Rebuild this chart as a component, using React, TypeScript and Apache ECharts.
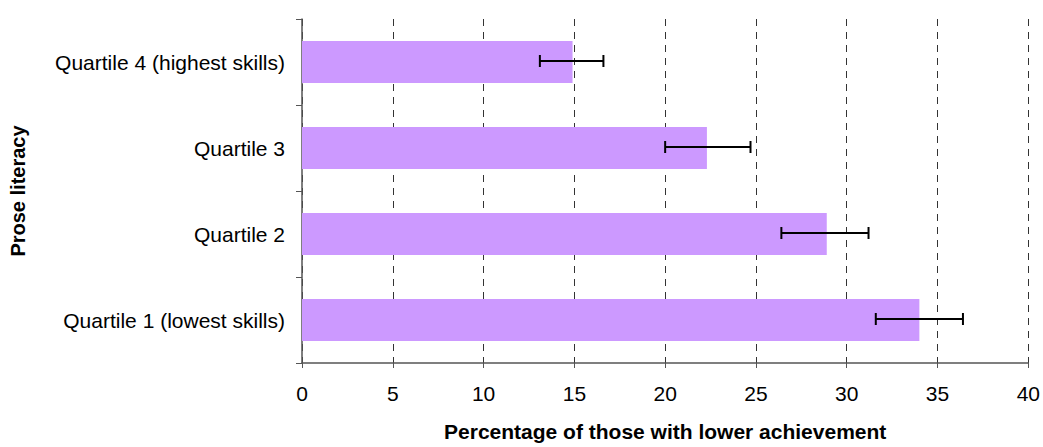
import React, { useEffect, useRef } from "react";
import * as echarts from "echarts";

const categories = [
  "Quartile 1 (lowest skills)",
  "Quartile 2",
  "Quartile 3",
  "Quartile 4 (highest skills)",
];
const barValues = [34.0, 28.9, 22.3, 14.9];
const errorLow = [31.6, 26.4, 20.0, 13.1];
const errorHigh = [36.4, 31.2, 24.7, 16.6];

const FONT = "'Liberation Sans', Arial, sans-serif";

export default function App() {
  const ref = useRef<HTMLDivElement>(null);
  useEffect(() => {
    if (!ref.current) return;
    const chart = echarts.init(ref.current, undefined, { renderer: "svg" });
    const errData = categories.map((_, i) => [i, errorLow[i], errorHigh[i]]);
    chart.setOption({
      animation: false,
      backgroundColor: "#ffffff",
      grid: { left: 299, right: 14, top: 19, bottom: 82, containLabel: false },
      xAxis: {
        type: "value",
        min: 0,
        max: 40,
        interval: 5,
        name: "Percentage of those with lower achievement",
        nameLocation: "middle",
        nameGap: 58,
        nameTextStyle: { fontFamily: FONT, fontSize: 21, fontWeight: "bold", color: "#000" },
        axisLine: { show: true, lineStyle: { color: "#555", width: 1.5 } },
        axisTick: { show: true, length: 5, lineStyle: { color: "#555" } },
        axisLabel: { fontFamily: FONT, fontSize: 21, color: "#000", margin: 20 },
        splitLine: {
          show: true,
          lineStyle: { color: "#333", type: [7, 6], width: 1 },
        },
      },
      yAxis: {
        type: "category",
        data: categories,
        name: "Prose literacy",
        nameLocation: "middle",
        nameGap: 274,
        nameRotate: 90,
        nameTextStyle: { fontFamily: FONT, fontSize: 20, fontWeight: "bold", color: "#000" },
        axisLine: { show: true, lineStyle: { color: "#555", width: 1.5 } },
        axisTick: { show: true, length: 6, alignWithLabel: false, lineStyle: { color: "#555" } },
        axisLabel: { fontFamily: FONT, fontSize: 21, color: "#000", margin: 17 },
        splitLine: { show: false },
      },
      series: [
        {
          type: "bar",
          data: barValues,
          barWidth: 42,
          itemStyle: { color: "#CC99FF" },
          z: 2,
        },
        {
          type: "custom",
          data: errData,
          z: 5,
          renderItem: (params: any, api: any) => {
            const cat = api.value(0);
            const lo = api.coord([api.value(1), cat]);
            const hi = api.coord([api.value(2), cat]);
            const y = lo[1] - 1;
            const h = 6;
            const style = { stroke: "#000", lineWidth: 2 };
            return {
              type: "group",
              children: [
                { type: "line", shape: { x1: lo[0], y1: y, x2: hi[0], y2: y }, style },
                { type: "line", shape: { x1: lo[0], y1: y - h, x2: lo[0], y2: y + h }, style },
                { type: "line", shape: { x1: hi[0], y1: y - h, x2: hi[0], y2: y + h }, style },
              ],
            };
          },
        },
      ],
    });
    return () => chart.dispose();
  }, []);
  return (
    <div
      ref={ref}
      style={{ position: "fixed", left: 0, top: 0, width: 1043, height: 447, background: "#fff" }}
    />
  );
}
